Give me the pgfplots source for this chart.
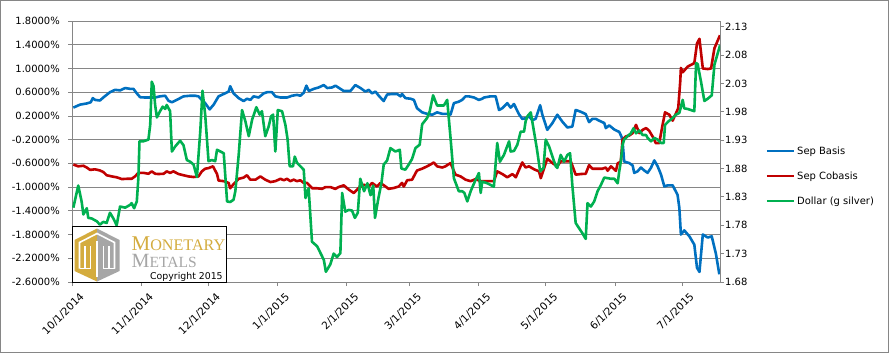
\documentclass[border=0pt]{standalone}
\usepackage{pgfplots}
\usepackage{pgfplotstable}
\pgfplotsset{compat=1.18}
\usepackage{graphicx}
\usepackage{fontspec}
\setmainfont{DejaVu Sans}
\newfontfamily\logoserif{Liberation Serif}
\definecolor{sbasis}{RGB}{0,112,192}
\definecolor{scob}{RGB}{192,0,0}
\definecolor{dol}{RGB}{0,176,80}
\definecolor{gridg}{RGB}{134,134,134}
\definecolor{mmgold}{RGB}{212,172,62}
\definecolor{mmgray}{RGB}{166,166,166}

\pgfplotstableread{
d v
0.6 0.34
3.6 0.39
6.6 0.41
8.4 0.43
9.3 0.50
10.3 0.47
12.5 0.46
14.0 0.51
15.5 0.555
17.0 0.60
19.3 0.64
21.5 0.63
23.8 0.67
26.0 0.656
27.5 0.656
29.0 0.58
30.5 0.515
32.7 0.51
35.0 0.51
37.2 0.51
39.4 0.53
41.7 0.54
43.2 0.455
44.7 0.43
46.9 0.47
48.4 0.50
49.9 0.53
52.9 0.54
55.1 0.54
56.6 0.53
58.1 0.47
59.6 0.415
61.6 0.31
63.4 0.39
65.6 0.53
67.9 0.57
70.1 0.61
70.8 0.70
72.3 0.58
74.6 0.50
76.8 0.45
78.3 0.49
79.8 0.47
81.3 0.53
83.5 0.51
85.8 0.58
87.3 0.60
89.5 0.60
91.0 0.53
93.3 0.51
96.2 0.51
98.5 0.54
100.7 0.555
102.2 0.54
103.7 0.59
104.9 0.71
106.0 0.62
108.2 0.656
110.4 0.68
112.7 0.72
114.2 0.67
116.4 0.68
117.9 0.71
121.6 0.62
124.6 0.62
126.8 0.72
129.1 0.67
131.3 0.61
132.8 0.64
134.3 0.58
135.8 0.61
137.3 0.54
139.5 0.45
141.0 0.56
143.2 0.57
145.5 0.57
147.0 0.53
147.7 0.57
149.2 0.50
151.5 0.49
153.0 0.47
154.4 0.33
156.7 0.26
158.9 0.235
161.2 0.22
163.4 0.26
165.7 0.235
167.9 0.235
169.4 0.22
170.9 0.415
173.1 0.44
174.6 0.47
176.1 0.53
177.6 0.53
179.9 0.51
182.1 0.47
183.6 0.49
184.4 0.51
187.3 0.53
189.6 0.53
191.1 0.30
192.6 0.33
194.8 0.415
196.3 0.34
197.8 0.40
200.0 0.23
201.5 0.15
203.0 0.16
204.5 0.19
206.0 0.13
207.5 0.15
209.5 0.38
210.5 0.22
212.7 -0.035
215.0 0.08
217.2 0.22
219.5 0.10
221.7 0.005
223.9 0.02
225.4 0.30
227.7 0.27
229.9 0.23
231.4 0.095
232.9 0.15
234.4 0.15
235.9 0.12
238.2 0.08
238.9 -0.005
240.4 0.04
242.7 -0.03
244.9 -0.07
245.9 -0.15
246.4 -0.23
247.1 -0.57
249.4 -0.595
250.9 -0.635
251.6 -0.76
253.1 -0.735
254.6 -0.67
256.1 -0.72
257.6 -0.76
259.1 -0.675
260.6 -0.55
262.1 -0.65
263.6 -0.79
265.1 -0.99
266.6 -0.97
268.8 -0.97
271.0 -1.13
271.8 -1.35
272.5 -1.80
274.0 -1.73
276.3 -1.83
278.5 -1.97
279.7 -2.36
280.8 -2.43
282.3 -1.80
284.5 -1.85
286.3 -1.83
288.2 -2.13
289.7 -2.47
}\tblbasis

\pgfplotstableread{
d v
0.6 -0.62
2.8 -0.65
5.1 -0.64
6.6 -0.67
8.1 -0.71
10.3 -0.70
12.5 -0.72
14.0 -0.745
15.5 -0.80
17.8 -0.82
20.0 -0.835
22.3 -0.865
24.5 -0.86
26.7 -0.86
28.2 -0.82
29.7 -0.76
32.0 -0.76
34.2 -0.775
35.7 -0.735
37.2 -0.775
38.7 -0.78
41.0 -0.775
42.4 -0.735
43.9 -0.76
45.4 -0.735
47.7 -0.78
49.9 -0.80
52.1 -0.82
54.4 -0.83
56.6 -0.82
58.1 -0.735
59.6 -0.69
61.1 -0.68
63.1 -0.65
64.9 -0.78
65.6 -0.89
67.9 -0.90
70.1 -0.93
70.8 -1.02
72.3 -0.95
74.6 -0.86
76.8 -0.84
78.3 -0.80
79.8 -0.875
82.1 -0.875
84.3 -0.82
86.5 -0.875
88.8 -0.915
91.0 -0.90
93.3 -0.86
94.8 -0.885
96.2 -0.86
97.7 -0.90
99.2 -0.875
100.7 -0.90
102.2 -0.885
103.7 -0.93
105.2 -0.93
107.5 -1.02
109.7 -1.02
111.9 -1.03
113.4 -1.00
115.7 -1.00
117.8 -1.03
119.3 -1.00
121.6 -0.97
123.8 -1.04
126.1 -1.10
128.3 -1.015
130.5 -0.96
132.8 -0.99
134.3 -0.93
136.5 -0.99
138.0 -0.93
140.3 -0.99
141.7 -1.03
144.0 -1.015
146.2 -0.99
147.7 -0.93
148.5 -0.99
150.0 -0.885
152.2 -0.875
154.4 -0.72
156.7 -0.69
158.9 -0.65
160.4 -0.62
161.9 -0.585
163.4 -0.65
165.7 -0.67
167.1 -0.65
169.4 -0.595
171.6 -0.79
173.9 -0.82
176.1 -0.875
178.4 -0.90
180.6 -0.865
182.9 -0.90
185.9 -0.90
188.8 -0.90
190.3 -0.735
192.6 -0.78
194.8 -0.835
197.1 -0.78
198.6 -0.835
201.5 -0.585
203.0 -0.67
204.5 -0.65
206.8 -0.70
209.0 -0.735
209.8 -0.85
212.7 -0.52
215.0 -0.595
217.2 -0.65
218.7 -0.565
221.0 -0.565
223.2 -0.565
225.4 -0.79
227.7 -0.78
229.9 -0.775
231.4 -0.63
232.9 -0.69
235.2 -0.69
237.4 -0.69
238.9 -0.67
239.7 -0.725
241.2 -0.65
243.4 -0.725
244.2 -0.60
245.6 -0.57
246.4 -0.20
247.9 -0.145
249.4 -0.13
250.9 -0.09
252.4 0.05
253.9 -0.09
255.4 -0.035
256.9 -0.005
258.3 -0.05
259.8 -0.145
261.3 -0.26
262.8 -0.26
264.3 0.05
265.4 0.26
267.3 0.22
268.8 0.12
270.3 0.245
271.3 0.33
272.2 0.78
272.5 1.01
273.3 0.935
275.5 1.03
277.0 1.06
278.5 1.09
279.7 1.42
280.8 1.50
282.3 1.00
284.5 0.99
286.0 1.00
287.5 1.34
290.0 1.56
}\tblcob

\pgfplotstableread{
d v
0.6 1.811
2.8 1.850
4.3 1.822
5.1 1.799
6.6 1.810
7.3 1.793
8.8 1.792
11.1 1.787
12.5 1.781
14.0 1.786
15.5 1.784
17.0 1.802
18.5 1.792
20.0 1.780
21.5 1.813
23.8 1.811
26.0 1.816
26.7 1.819
27.8 1.810
29.0 1.822
29.7 1.863
30.2 1.928
32.0 1.928
34.2 1.931
35.0 1.957
35.7 2.033
36.5 2.025
37.2 1.992
38.0 1.970
39.4 1.981
40.6 1.989
41.7 1.985
42.4 1.992
43.9 1.981
44.7 1.910
46.2 1.919
48.4 1.929
49.9 1.921
51.4 1.895
52.9 1.892
54.4 1.887
55.9 1.865
57.4 1.945
58.4 2.017
59.6 1.975
61.1 1.893
62.6 1.895
64.1 1.893
64.9 1.913
66.4 1.910
67.9 1.907
69.4 1.822
70.8 1.821
72.3 1.825
73.1 1.840
74.6 1.904
76.1 1.983
77.6 1.963
79.1 1.937
80.6 1.966
82.5 1.988
84.0 1.975
85.0 1.981
86.5 1.937
88.0 1.954
89.1 1.972
90.0 1.975
91.0 1.910
92.1 1.983
94.0 1.981
95.5 1.957
96.5 1.931
97.4 1.884
98.9 1.884
99.7 1.901
100.7 1.890
102.2 1.884
103.7 1.878
104.5 1.828
105.9 1.845
107.4 1.751
109.7 1.743
111.2 1.731
112.7 1.719
113.6 1.698
115.6 1.711
117.1 1.730
118.6 1.724
120.1 1.731
120.9 1.837
122.3 1.804
123.8 1.807
125.3 1.806
126.6 1.793
127.9 1.802
129.0 1.862
130.7 1.840
132.2 1.854
133.6 1.833
134.8 1.850
135.6 1.793
137.0 1.825
138.5 1.855
139.5 1.887
141.0 1.894
142.5 1.916
144.7 1.910
146.7 1.913
147.4 1.880
149.2 1.878
150.7 1.887
152.2 1.897
153.7 1.916
155.6 1.922
156.7 1.958
158.9 1.969
160.1 1.981
161.6 2.009
163.4 1.991
164.9 1.991
166.4 1.991
167.9 2.001
169.4 1.934
170.9 1.863
173.1 1.840
174.6 1.840
175.6 1.837
176.9 1.822
178.4 1.840
180.6 1.860
182.1 1.872
182.9 1.837
183.6 1.857
185.9 1.854
188.8 1.848
190.3 1.925
191.5 1.892
193.3 1.904
195.6 1.928
196.3 1.910
197.8 1.911
199.3 1.922
200.8 1.945
202.3 1.945
203.0 1.963
203.8 1.972
205.3 1.979
206.5 1.951
208.0 1.916
209.5 1.875
211.0 1.881
212.0 1.931
213.5 1.919
215.0 1.901
216.5 1.884
217.2 1.881
218.7 1.904
220.2 1.892
221.7 1.904
222.9 1.907
223.9 1.851
225.4 1.784
226.9 1.775
228.4 1.766
229.9 1.756
230.7 1.819
232.2 1.813
233.7 1.822
235.2 1.840
236.7 1.851
238.2 1.864
239.7 1.863
241.2 1.862
242.7 1.862
244.2 1.854
244.9 1.875
245.6 1.892
246.4 1.922
247.1 1.931
248.6 1.937
250.1 1.942
251.3 1.951
252.4 1.942
253.9 1.947
255.4 1.939
256.9 1.939
257.6 1.934
259.1 1.928
260.6 1.934
262.1 1.931
263.6 1.925
264.8 1.925
265.4 1.957
266.9 1.963
268.8 1.969
270.3 1.975
271.8 1.978
273.3 2.001
274.0 1.986
275.5 1.985
277.0 1.983
278.5 1.981
279.3 2.066
280.0 2.064
281.5 2.033
283.0 1.999
284.5 2.003
286.3 2.009
287.5 2.063
290.0 2.097
}\tbldol

\begin{document}
\begin{tikzpicture}[x=1bp,y=1bp]
\useasboundingbox (0,0) rectangle (894,353);
\draw[gridg, line width=0.8bp] (0.5,0.8) rectangle (888,352.5);
\begin{axis}[
  at={(72bp,71bp)}, anchor=south west, scale only axis,
  width=648bp, height=261bp,
  xmin=0, xmax=290, ymin=-2.6, ymax=1.8,
  axis x line*=bottom, axis y line*=left,
  axis line style={gridg, line width=0.8bp},
  tick align=outside, major tick length=4bp,
  tick style={gridg, line width=0.8bp},
  xtick={0,31,61,92,123,151,182,212,243,273},
  xticklabels={10/1/2014,11/1/2014,12/1/2014,1/1/2015,2/1/2015,3/1/2015,4/1/2015,5/1/2015,6/1/2015,7/1/2015},
  xticklabel style={rotate=45, anchor=north east, inner sep=1bp, xshift=2bp, yshift=-8bp, font=\fontsize{10.5}{12}\selectfont},
  ytick={-2.6,-2.2,-1.8,-1.4,-1.0,-0.6,-0.2,0.2,0.6,1.0,1.4,1.8},
  yticklabels={-2.6000\%,-2.2000\%,-1.8000\%,-1.4000\%,-1.0000\%,-0.6000\%,-0.2000\%,0.2000\%,0.6000\%,1.0000\%,1.4000\%,1.8000\%},
  yticklabel style={font=\fontsize{10}{12}\selectfont, inner sep=1bp, xshift=-7bp},
  ymajorgrids, grid style={gridg, line width=0.8bp},
  legend style={at={(1.07,0.406)}, anchor=west, draw=none, fill=none,
    font=\fontsize{10}{12}\selectfont, row sep=12bp, inner sep=0bp},
  legend cell align=left,
  legend image code/.code={\draw[#1] (0bp,0bp) -- (27bp,0bp);},
]
\addplot[sbasis, line width=2.6bp, no markers, line join=round] table[x=d,y=v] {\tblbasis};
\addlegendentry{Sep Basis}
\addplot[scob, line width=2.6bp, no markers, line join=round] table[x=d,y=v] {\tblcob};
\addlegendentry{Sep Cobasis}
\addlegendimage{dol, line width=2.6bp}
\addlegendentry{Dollar (g silver)}
\end{axis}
\begin{axis}[
  at={(72bp,71bp)}, anchor=south west, scale only axis,
  width=648bp, height=261bp,
  xmin=0, xmax=290, ymin=1.68, ymax=2.14,
  axis x line=none, axis y line*=right,
  axis line style={gridg, line width=0.8bp},
  tick align=outside, major tick length=4bp,
  tick style={gridg, line width=0.8bp},
  ytick={1.68,1.73,1.78,1.83,1.88,1.93,1.98,2.03,2.08,2.13},
  yticklabels={1.68,1.73,1.78,1.83,1.88,1.93,1.98,2.03,2.08,2.13},
  yticklabel style={font=\fontsize{10}{12}\selectfont, inner sep=1bp},
]
\addplot[dol, line width=2.6bp, no markers, line join=round] table[x=d,y=v] {\tbldol};
\end{axis}
% logo box
\draw[black, line width=0.9bp, fill=white] (72.7,70.5) rectangle (226.7,126.3);
\fill[mmgold] (97,124.5) -- (74.5,113) -- (74.5,82) -- (97,71.5) -- cycle;
\fill[mmgray] (97,124.5) -- (119.5,113) -- (119.5,82) -- (97,71.5) -- cycle;
\draw[white, line width=1.6bp] (79.5,84.5) -- (79.5,110.5) -- (97,119.5) -- (114.5,110.5) -- (114.5,84.5);
\foreach \xx in {85,90.5,103.5,109}{\draw[white, line width=1.6bp] (\xx,84.5) -- (\xx,107.5);}
\draw[white, line width=1.6bp] (79.5,84.5) -- (90.5,84.5);
\draw[white, line width=1.6bp] (103.5,84.5) -- (114.5,84.5);
\draw[white, line width=1.6bp] (97,76) -- (97,112);
\node[anchor=base west, inner sep=0pt, text=mmgold] at (131.5,102.5)
  {\resizebox{93.5bp}{!}{\logoserif{\fontsize{13}{13}\selectfont M}{\fontsize{10}{10}\selectfont ONETARY}}};
\node[anchor=base west, inner sep=0pt, text=mmgray] at (131.5,85.5)
  {\resizebox{65bp}{!}{\logoserif{\fontsize{13}{13}\selectfont M}{\fontsize{10}{10}\selectfont ETALS}}};
\node[anchor=base west, inner sep=0pt, text=black] at (150,74)
  {\resizebox{72.5bp}{!}{\fontsize{10}{12}\selectfont Copyright 2015}};
\end{tikzpicture}
\end{document}
